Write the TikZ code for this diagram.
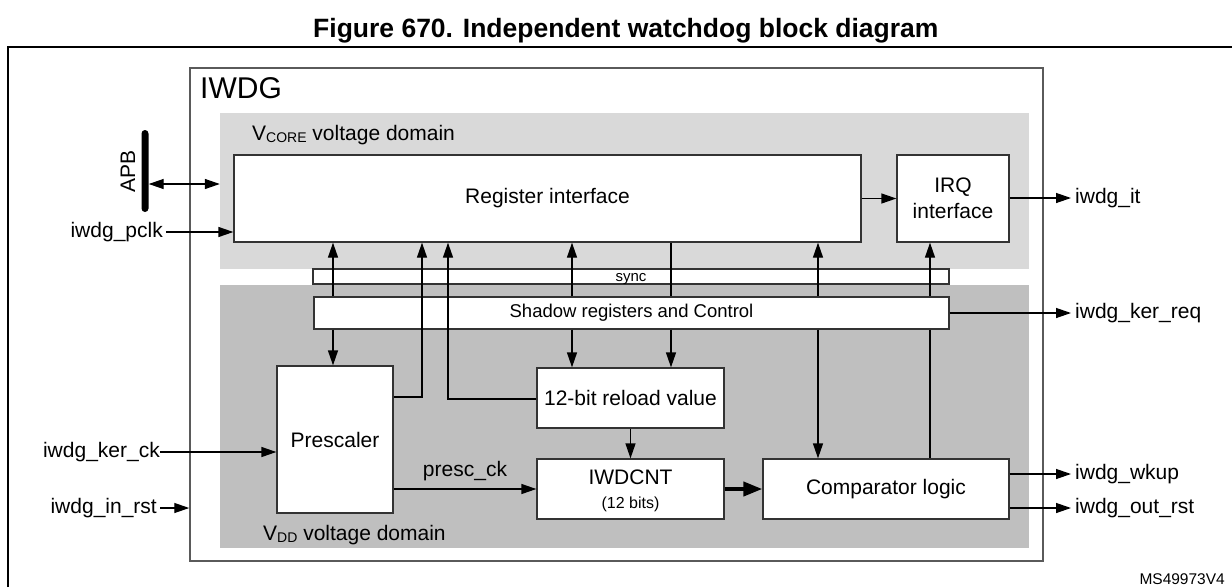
\documentclass[tikz,border=0pt]{standalone}
\usepackage{fontspec}
\setmainfont{Liberation Sans}
\usetikzlibrary{arrows.meta,calc}
\definecolor{vcorec}{HTML}{D9D9D9}
\definecolor{vddc}{HTML}{BFBFBF}
\definecolor{edgec}{HTML}{333333}
\definecolor{iwdgc}{HTML}{5A5A5A}
\newcommand{\fsz}[1]{\fontsize{#1}{#1}\selectfont}
\begin{document}
\begin{tikzpicture}[x=1pt,y=-1pt,
  box/.style={draw=edgec, fill=white, line width=1.3pt, inner sep=0pt, align=center, font=\fontsize{21}{26}\selectfont},
  lbl/.style={inner sep=0pt, font=\fsz{21}},
  arr/.style={line width=1.3pt, -{Triangle[length=15pt,width=10pt]}},
  dblarr/.style={line width=1.3pt, {Triangle[length=15pt,width=10pt]}-{Triangle[length=15pt,width=10pt]}},
  thickarr/.style={line width=4pt, -{Triangle[length=19pt,width=14pt]}},
  plain/.style={line width=1.3pt}]
\useasboundingbox (0,0) rectangle (1232,587);
\fill[white] (0,0) rectangle (1232,587);
% title and outer frame
\node[anchor=base west, inner sep=0pt, font=\bfseries\fsz{26.5}] (title) at (313,37) {Figure 670. Independent watchdog block diagram};
\draw[line width=2.7pt] (8,587) -- (8,47) -- (1232,47);
% IWDG container and domains
\node[draw=iwdgc, line width=1.5pt, minimum width=853pt, minimum height=493pt, inner sep=0pt] (iwdg) at (616.5,314.5) {};
\node[fill=vcorec, minimum width=809pt, minimum height=156pt, inner sep=0pt] (vcore) at (624.5,191) {};
\node[fill=vddc, minimum width=809pt, minimum height=263pt, inner sep=0pt] (vdd) at (624.5,416.5) {};
\node[anchor=base west, inner sep=0pt, font=\fsz{30}] (iwdglbl) at (200,98) {IWDG};
\node[anchor=base west, lbl] (vcorelbl) at (252,140) {V\raisebox{-2pt}{\fsz{14}CORE} voltage domain};
\node[anchor=base west, lbl] (vddlbl) at (263,540) {V\raisebox{-2pt}{\fsz{14}DD} voltage domain};
% blocks
\node[box, minimum width=627pt, minimum height=87pt] (reg) at (547.5,198.5) {Register interface};
\node[box, minimum width=112pt, minimum height=87pt] (irq) at (953,198.5) {IRQ\\interface};
\node[box, minimum width=636pt, minimum height=15pt] (sync) at (631,276.5) {};
\node[anchor=base, inner sep=0pt, font=\fsz{15}] (synclbl) at ($(sync.center)+(0,4.5)$) {sync};
\node[box, minimum width=635pt, minimum height=32pt, font=\fsz{18.5}] (shadow) at (631.5,313) {Shadow registers and Control};
\node[box, minimum width=116pt, minimum height=147pt] (presc) at (335,439.5) {Prescaler};
\node[box, minimum width=187pt, minimum height=60pt] (reload) at (630.5,398) {12-bit reload value};
\node[box, minimum width=187pt, minimum height=60pt] (cnt) at (630.5,489) {};
\node[lbl] (cntlbl) at ($(cnt.center)+(0,-12)$) {IWDCNT};
\node[inner sep=0pt, font=\fsz{16}] (cntbits) at ($(cnt.center)+(0,15)$) {(12 bits)};
\node[box, minimum width=246pt, minimum height=60pt] (comp) at (886,489) {Comparator logic};
% column coordinates
\coordinate (xa) at (333,0);
\coordinate (xb) at (422,0);
\coordinate (xc) at (448,0);
\coordinate (xd) at (572,0);
\coordinate (xe) at (671,0);
\coordinate (xf) at (818,0);
\coordinate (xg) at (930,0);
\coordinate (yb) at (0,397);
\coordinate (yc) at (0,399);
% internal connectors
\draw[arr] (shadow.north -| xa) -- (reg.south -| xa);
\draw[arr] (shadow.south -| xa) -- (presc.north -| xa);
\draw[arr] (presc.east |- yb) -- (xb |- yb) -- (reg.south -| xb);
\draw[arr] (reload.west |- yc) -- (xc |- yc) -- (reg.south -| xc);
\draw[arr] (shadow.north -| xd) -- (reg.south -| xd);
\draw[arr] (shadow.south -| xd) -- (reload.north -| xd);
\draw[plain] (reg.south -| xe) -- (shadow.north -| xe);
\draw[arr] (shadow.south -| xe) -- (reload.north -| xe);
\draw[arr] (shadow.north -| xf) -- (reg.south -| xf);
\draw[arr] (shadow.south -| xf) -- (comp.north -| xf);
\draw[arr] (shadow.north -| xg) -- (irq.south -| xg);
\draw[plain] (shadow.south -| xg) -- (comp.north -| xg);
\draw[arr] (reg.east) -- (irq.west);
\draw[arr] (reload.south) -- (cnt.north);
\draw[arr] (presc.east |- cnt.west) -- node[lbl, above=8pt] (presclbl) {presc\_ck} (cnt.west);
\draw[thickarr] (cnt.east) -- (comp.west);
% APB bus
\node[fill=black, minimum width=7pt, minimum height=82pt, inner sep=0pt, rounded corners=3.5pt] (apb) at (145,171) {};
\node[lbl, rotate=90] (apblbl) at (128,171) {APB};
\coordinate (apby) at (0,184);
\draw[dblarr] (apb.east |- apby) -- (vcore.west |- apby);
% left signals
\node[lbl, anchor=east, inner xsep=3pt] (lpclk) at (166,232) {iwdg\_pclk};
\draw[arr] (lpclk.east) -- (reg.west |- lpclk.east);
\node[lbl, anchor=east] (lkerck) at (160,452) {iwdg\_ker\_ck};
\draw[arr] (lkerck.east) -- (presc.west |- lkerck.east);
\node[lbl, anchor=east, inner xsep=3pt] (linrst) at (160,508) {iwdg\_in\_rst};
\draw[arr] (linrst.east) -- (iwdg.west |- linrst.east);
% right signals
\node[lbl, anchor=west, inner xsep=4pt] (lit) at (1071,198) {iwdg\_it};
\draw[arr] (irq.east |- lit.west) -- (lit.west);
\node[lbl, anchor=west, inner xsep=4pt] (lker) at (1071,313) {iwdg\_ker\_req};
\draw[arr] (shadow.east |- lker.west) -- (lker.west);
\node[lbl, anchor=west, inner xsep=4pt] (lwk) at (1071,474) {iwdg\_wkup};
\draw[arr] (comp.east |- lwk.west) -- (lwk.west);
\node[lbl, anchor=west, inner xsep=4pt] (lrst) at (1071,508) {iwdg\_out\_rst};
\draw[arr] (comp.east |- lrst.west) -- (lrst.west);
% reference
\node[anchor=base east, inner sep=0pt, font=\fsz{15.5}] (ref) at (1225,584) {MS49973V4};
\end{tikzpicture}
\end{document}
